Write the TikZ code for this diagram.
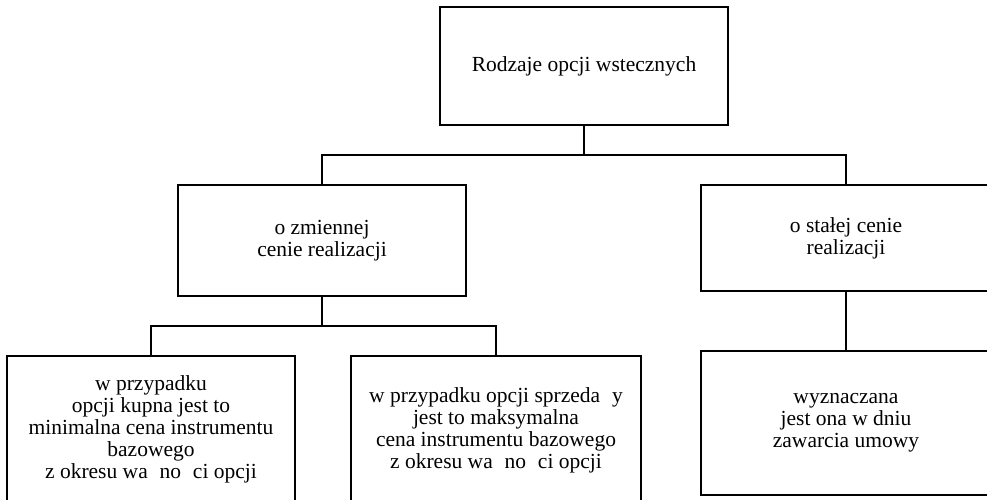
\documentclass[tikz,border=0pt]{standalone}
\usepackage{fontspec}
\setmainfont{Liberation Serif}
\usetikzlibrary{arrows}
\usetikzlibrary{shapes}

\newcommand{\lack}{\hspace{0.55em}}

\begin{document}
\begin{tikzpicture}[x = 1pt, y = -1pt]
	\tikzstyle{boxStyle} = [draw, line width = 1.3pt, shape = rectangle, align = center, font = \fontsize{21.5}{22}\selectfont, inner sep = 0pt]
	\tikzstyle{linkStyle} = [line width = 1.3pt]
	\clip (0, 0) rectangle (987, 499);
	\node[boxStyle, minimum width = 288pt, minimum height = 118pt] (root) at (584, 66) {Rodzaje opcji wstecznych};
	\node[boxStyle, minimum width = 288pt, minimum height = 111pt] (zmienna) at (322, 240.5) {o zmiennej\\cenie realizacji};
	\node[boxStyle, minimum width = 290pt, minimum height = 106pt] (stala) at (846, 238) {o stałej cenie\\realizacji};
	\node[boxStyle, minimum width = 288pt, minimum height = 146pt] (kupno) at (151, 429) {w przypadku\\opcji kupna jest to\\minimalna cena instrumentu\\bazowego\\z okresu wa\lack no\lack ci opcji};
	\node[boxStyle, minimum width = 290pt, minimum height = 148pt] (sprzedaz) at (496, 430) {w przypadku opcji sprzeda\lack y\\jest to maksymalna\\cena instrumentu bazowego\\z okresu wa\lack no\lack ci opcji};
	\node[boxStyle, minimum width = 290pt, minimum height = 144pt] (termin) at (846, 423) {wyznaczana\\jest ona w dniu\\zawarcia umowy};
	\coordinate (v0) at (584, 155);
	\coordinate (v1) at (322, 326);
	\draw[linkStyle] (root) -- (v0);
	\draw[linkStyle] (v0) -| (zmienna);
	\draw[linkStyle] (v0) -| (stala);
	\draw[linkStyle] (zmienna) -- (v1);
	\draw[linkStyle] (v1) -| (kupno);
	\draw[linkStyle] (v1) -| (sprzedaz);
	\draw[linkStyle] (stala) -- (termin);
\end{tikzpicture}
\end{document}
